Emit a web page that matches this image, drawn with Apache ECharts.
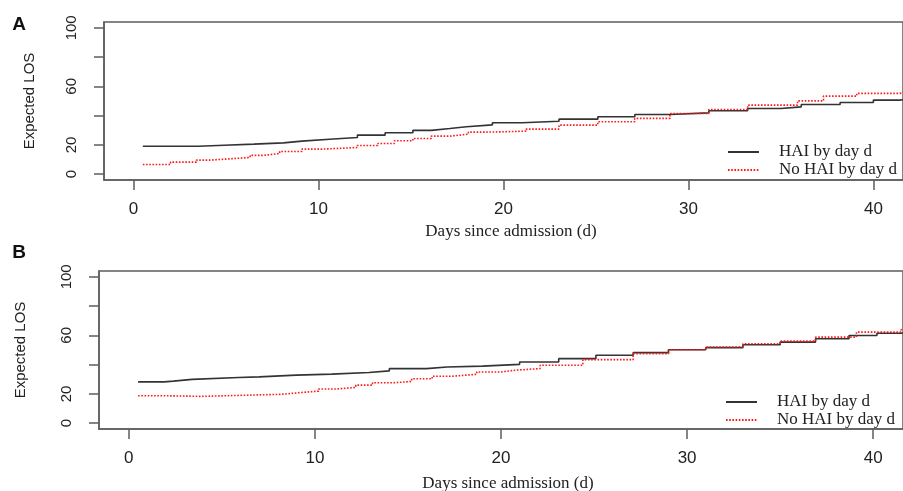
<!DOCTYPE html>
<html>
<head>
<meta charset="utf-8">
<script src="https://cdn.jsdelivr.net/npm/echarts@6/dist/echarts.min.js"></script>
<style>
  html, body { margin: 0; padding: 0; background: #ffffff; }
  #chart { width: 903px; height: 491px; }
</style>
</head>
<body>
<div id="chart"></div>
<script>
// Expected length of stay by day since admission, two cohorts (A, B)

const seriesNames = ['HAI by day d', 'No HAI by day d'];

// Panel A
const daysA_hai = [0.5, 3.5, 4.9, 6.5, 8.1, 9.1, 10.6, 12.1, 13.6, 15.1, 16.1, 17.1, 18.0, 19.4, 21.0, 23.0, 25.1, 27.1, 29.0, 31.1, 33.2, 35.0, 36.1, 38.2, 40.0, 41.4, 42.0];
const losA_hai  = [19.1, 19.8, 20.5, 21.4, 22.6, 23.9, 25.1, 26.7, 28.3, 29.9, 31.2, 32.4, 33.7, 35.1, 36.2, 37.6, 39.2, 40.8, 41.9, 43.3, 44.9, 46.0, 47.6, 49.0, 50.6, 51.3, 51.3];
const daysA_no  = [0.5, 2.0, 3.4, 4.1, 5.0, 6.3, 7.0, 7.9, 9.1, 10.2, 12.1, 13.2, 14.1, 15.1, 16.1, 17.1, 18.1, 18.8, 19.8, 21.2, 23.0, 25.1, 27.1, 29.0, 31.1, 33.2, 35.9, 37.3, 39.1, 41.4, 42.0];
const losA_no   = [6.6, 8.2, 9.6, 10.3, 11.4, 12.8, 14.1, 15.5, 17.1, 18.2, 19.6, 21.0, 22.8, 24.4, 26.0, 27.3, 28.7, 28.9, 29.4, 30.8, 33.5, 35.8, 38.1, 41.5, 44.2, 47.2, 50.1, 53.3, 55.2, 56.3, 56.3];

// Panel B
const daysB_hai = [0.5, 1.9, 2.4, 3.4, 5.9, 7.0, 9.0, 10.9, 12.9, 14.0, 16.0, 17.1, 19.0, 21.0, 23.1, 25.1, 27.1, 29.0, 31.0, 33.0, 35.0, 36.9, 38.7, 40.2, 41.5, 42.0];
const losB_hai  = [28.2, 28.7, 29.9, 31.2, 31.6, 32.8, 33.5, 34.6, 35.7, 37.3, 38.4, 39.0, 40.2, 41.8, 44.1, 46.4, 48.2, 50.2, 51.6, 53.6, 55.4, 57.7, 59.9, 61.5, 62.0, 62.0];
const daysB_no  = [0.5, 2.1, 3.9, 6.6, 8.2, 9.3, 10.2, 11.1, 12.2, 13.1, 14.2, 15.2, 16.3, 17.4, 18.7, 20.0, 20.8, 22.1, 24.4, 27.1, 29.0, 31.0, 33.0, 35.0, 36.9, 39.1, 41.5, 42.0];
const losB_no   = [18.7, 18.3, 19.2, 19.7, 21.0, 21.9, 23.3, 24.4, 26.0, 27.6, 28.5, 30.3, 32.1, 33.4, 35.0, 36.2, 37.3, 39.6, 43.4, 47.5, 50.2, 52.0, 54.3, 56.1, 58.8, 62.2, 64.0, 64.0];

// Axis ticks
const xTicks = [0, 10, 20, 30, 40];
const yTicks = [0, 20, 40, 60, 80, 100];
const yTickLabels = [0, 20, 60, 100];

const axisGray = '#5e5e5e';
const textColor = '#222222';
const sans = '"Liberation Sans", Arial, sans-serif';
const serif = '"Liberation Serif", "Times New Roman", serif';

function pairs(xs, ys) {
  return xs.map((x, i) => [x, ys[i]]);
}

const panels = [
  { grid: { left: 104, right: -4.5, top: 22, height: 158 }, nameGap: 67 },
  { grid: { left: 99, right: -3, top: 271, height: 158 }, nameGap: 71 }
];

function xAxisFor(i) {
  return {
    type: 'value', gridIndex: i, min: -1.6, max: 41.6,
    axisLine: { show: true, onZero: false, lineStyle: { color: axisGray, width: 1.5 } },
    axisTick: { show: true, length: 10, customValues: xTicks, lineStyle: { color: axisGray, width: 1.5 } },
    axisLabel: { customValues: xTicks, margin: 21, fontFamily: sans, fontSize: 17, color: textColor },
    splitLine: { show: false }
  };
}

function yAxisFor(i) {
  return {
    type: 'value', gridIndex: i, min: -4, max: 104,
    axisLine: { show: true, onZero: false, lineStyle: { color: axisGray, width: 1.5 } },
    axisTick: { show: true, length: 10, customValues: yTicks, lineStyle: { color: axisGray, width: 1.5 } },
    axisLabel: { customValues: yTickLabels, rotate: 90, margin: 25, fontFamily: sans, fontSize: 15, color: textColor },
    splitLine: { show: false },
    name: 'Expected LOS', nameLocation: 'middle', nameRotate: 90, nameGap: panels[i].nameGap,
    nameTextStyle: { fontFamily: sans, fontSize: 15, color: textColor }
  };
}

const haiStyle = { color: '#333333', width: 1.6, type: 'solid' };
const noStyle = { color: '#ff1a1a', width: 1.6, type: [1.6, 1.6] };

function lineSeries(name, i, data, style) {
  return {
    name: name, type: 'line', xAxisIndex: i, yAxisIndex: i,
    data: data, step: 'end', symbol: 'none', showSymbol: false,
    lineStyle: style, itemStyle: { color: style.color },
    silent: true, clip: true
  };
}

function legendFor(left, top) {
  return {
    data: seriesNames, orient: 'vertical', left: left, top: top, padding: 0,
    itemWidth: 31, itemHeight: 14, itemGap: 0, selectedMode: false,
    itemStyle: { opacity: 0 },
    textStyle: { fontFamily: serif, fontSize: 17, lineHeight: 18, color: textColor, padding: [0, 0, 0, 15] }
  };
}

const option = {
  animation: false,
  backgroundColor: '#ffffff',
  grid: panels.map(p => Object.assign({ show: true, borderColor: axisGray, borderWidth: 1.5, backgroundColor: 'transparent' }, p.grid)),
  xAxis: [xAxisFor(0), xAxisFor(1)],
  yAxis: [yAxisFor(0), yAxisFor(1)],
  legend: [legendFor(727, 143), legendFor(725, 393)],
  series: [
    lineSeries(seriesNames[0], 0, pairs(daysA_hai, losA_hai), haiStyle),
    lineSeries(seriesNames[1], 0, pairs(daysA_no, losA_no), noStyle),
    lineSeries(seriesNames[0], 1, pairs(daysB_hai, losB_hai), haiStyle),
    lineSeries(seriesNames[1], 1, pairs(daysB_no, losB_no), noStyle)
  ],
  graphic: [
    { type: 'text', x: 19, y: 25, style: { text: 'A', align: 'center', verticalAlign: 'middle', fill: '#111', fontFamily: sans, fontWeight: 'bold', fontSize: 19 } },
    { type: 'text', x: 19, y: 253, style: { text: 'B', align: 'center', verticalAlign: 'middle', fill: '#111', fontFamily: sans, fontWeight: 'bold', fontSize: 19 } },
    { type: 'text', x: 511, y: 232, style: { text: 'Days since admission (d)', align: 'center', verticalAlign: 'middle', fill: textColor, fontFamily: serif, fontSize: 17 } },
    { type: 'text', x: 508, y: 484, style: { text: 'Days since admission (d)', align: 'center', verticalAlign: 'middle', fill: textColor, fontFamily: serif, fontSize: 17 } }
  ]
};

const chart = echarts.init(document.getElementById('chart'), null, { renderer: 'canvas' });
chart.setOption(option);
</script>
</body>
</html>
